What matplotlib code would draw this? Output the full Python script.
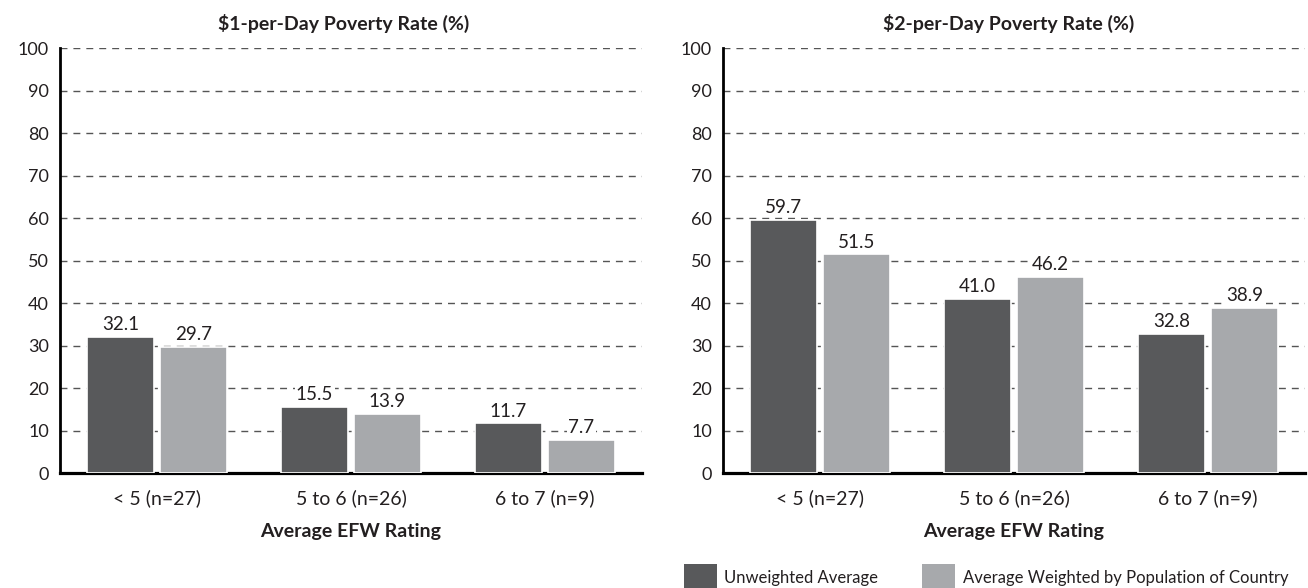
import matplotlib.pyplot as plt
import numpy as np
from matplotlib.patches import Rectangle
from matplotlib.transforms import blended_transform_factory

plt.rcParams['font.family'] = ['Lato', 'DejaVu Sans']

categories = ['< 5 (n=27)', '5 to 6 (n=26)', '6 to 7 (n=9)']
unweighted_1 = [32.1, 15.5, 11.7]
weighted_1 = [29.7, 13.9, 7.7]
unweighted_2 = [59.7, 41.0, 32.8]
weighted_2 = [51.5, 46.2, 38.9]
titles = ['$1-per-Day Poverty Rate (%)', '$2-per-Day Poverty Rate (%)']
legend_labels = ['Unweighted Average', 'Average Weighted by Population of Country']

dark = '#58595b'
light = '#a7a9ac'
txt = '#231f20'

W, H = 1308, 588
fig = plt.figure(figsize=(W / 100, H / 100), dpi=100)
ax1 = fig.add_axes([60 / W, 115 / H, 582 / W, 424.5 / H])
ax2 = fig.add_axes([723 / W, 115 / H, 582 / W, 424.5 / H])

x = np.arange(len(categories))
w = 0.345
off = 0.188

for ax, u, wt, title, tx in [(ax1, unweighted_1, weighted_1, titles[0], 0.96),
                             (ax2, unweighted_2, weighted_2, titles[1], 0.97)]:
    b1 = ax.bar(x - off, u, width=w, color=dark, edgecolor='white', linewidth=1.2, zorder=3)
    b2 = ax.bar(x + off, wt, width=w, color=light, edgecolor='white', linewidth=1.2, zorder=3)
    for bars, vals in [(b1, u), (b2, wt)]:
        for r, v in zip(bars, vals):
            ax.text(r.get_x() + r.get_width() / 2, v + 0.9, f'{v:.1f}',
                    ha='center', va='bottom', fontsize=13.5, color=txt, zorder=4,
                    bbox=dict(facecolor='white', edgecolor='none', pad=1))
    ax.set_xlim(-0.5, 2.5)
    ax.set_ylim(0, 100)
    ax.set_yticks(range(0, 101, 10))
    ax.set_xticks(x)
    ax.set_xticklabels(categories, fontsize=14)
    ax.tick_params(axis='both', length=0, colors=txt)
    ax.tick_params(axis='y', labelsize=13, pad=8)
    ax.tick_params(axis='x', pad=12)
    for yv in range(10, 101, 10):
        ax.axhline(yv, color='#555555', lw=1, ls=(0, (5, 4.3)), zorder=1)
    for s in ['top', 'right']:
        ax.spines[s].set_visible(False)
    ax.spines['left'].set_linewidth(2)
    ax.spines['bottom'].set_linewidth(2.3)
    tr = blended_transform_factory(ax.transData, ax.transAxes)
    ax.text(1, -0.151, 'Average EFW Rating', transform=tr, ha='center', va='baseline',
            fontsize=14, fontweight='bold', color=txt)
    ax.text(tx, 1.044, title, transform=tr, ha='center', va='baseline',
            fontsize=14, fontweight='bold', color=txt)

# legend drawn below the right panel
for (x0, label, col, tx0) in [(684, legend_labels[0], dark, 724),
                              (922, legend_labels[1], light, 963)]:
    fig.add_artist(Rectangle((x0 / W, 0), 33 / W, 24 / H, transform=fig.transFigure,
                             facecolor=col, edgecolor='none'))
    fig.text(tx0 / W, 5 / H, label, ha='left', va='baseline', fontsize=12, color=txt)

fig.savefig('out.png', dpi=100)
